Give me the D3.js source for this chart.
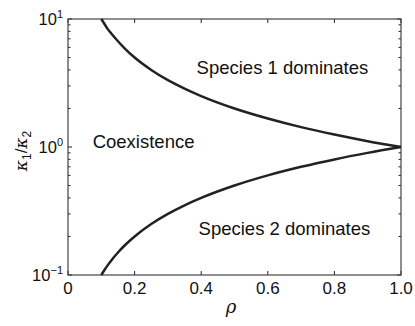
<!DOCTYPE html>
<html>
<head>
<meta charset="utf-8">
<script src="https://cdn.jsdelivr.net/npm/d3@7"></script>
<style>
  body { margin: 0; background: #fff; }
  svg { display: block; font-family: "Liberation Sans", Arial, sans-serif; }
</style>
</head>
<body>
<svg id="chart" width="415" height="326"></svg>
<script>
// values
const rho = [0.1, 0.11, 0.12, 0.13, 0.15, 0.17, 0.2, 0.25, 0.3, 0.35, 0.4, 0.5, 0.6, 0.7, 0.8, 0.9, 1.0];
const upperRatio = [10, 9.1, 8.3, 7.7, 6.7, 5.9, 5.0, 4.0, 3.33, 2.86, 2.5, 2.0, 1.67, 1.43, 1.25, 1.11, 1.0];
const lowerRatio = [0.1, 0.11, 0.12, 0.13, 0.15, 0.17, 0.2, 0.25, 0.3, 0.35, 0.4, 0.5, 0.6, 0.7, 0.8, 0.9, 1.0];
const xTicks = [0, 0.2, 0.4, 0.6, 0.8, 1.0];
const yMajor = [0.1, 1, 10];
const yExp = ["\u22121", "0", "1"];
const regionLabels = ["Species 1 dominates", "Coexistence", "Species 2 dominates"];
const regionPos = [[0.644, 4.2], [0.227, 1.11], [0.65, 0.23]];

const margin = {top: 19, right: 14, bottom: 51, left: 68};
const W = 415, H = 326;
const width = W - margin.left - margin.right;
const height = H - margin.top - margin.bottom;

const svg = d3.select('#chart');
const g = svg.append('g').attr('transform', 'translate(' + margin.left + ',' + margin.top + ')');

const x = d3.scaleLinear().domain([0, 1]).range([0, width]);
const y = d3.scaleLog().domain([0.1, 10]).range([height, 0]);

const ink = '#222';
const tickLen = 4;

// minor log ticks
const minor = [];
[0.1, 1].forEach(b => { for (let k = 2; k <= 9; k++) minor.push(b * k); });

// x ticks bottom & top (inward)
xTicks.forEach(t => {
  g.append('line').attr('x1', x(t)).attr('x2', x(t)).attr('y1', height).attr('y2', height - tickLen)
    .attr('stroke', ink).attr('stroke-width', 1);
  g.append('line').attr('x1', x(t)).attr('x2', x(t)).attr('y1', 0).attr('y2', tickLen)
    .attr('stroke', ink).attr('stroke-width', 1);
  g.append('text').attr('x', x(t)).attr('y', height + 19)
    .attr('text-anchor', 'middle').attr('font-size', 17).attr('fill', '#111')
    .text(t === 0 ? '0' : d3.format('.1f')(t));
});

// y minor ticks left & right
minor.forEach(v => {
  g.append('line').attr('x1', 0).attr('x2', 2.5).attr('y1', y(v)).attr('y2', y(v))
    .attr('stroke', ink).attr('stroke-width', 1);
  g.append('line').attr('x1', width).attr('x2', width - 2.5).attr('y1', y(v)).attr('y2', y(v))
    .attr('stroke', ink).attr('stroke-width', 1);
});
yMajor.forEach((v, i) => {
  g.append('line').attr('x1', 0).attr('x2', tickLen).attr('y1', y(v)).attr('y2', y(v))
    .attr('stroke', ink).attr('stroke-width', 1);
  g.append('line').attr('x1', width).attr('x2', width - tickLen).attr('y1', y(v)).attr('y2', y(v))
    .attr('stroke', ink).attr('stroke-width', 1);
  const t = g.append('text').attr('x', -5).attr('y', y(v) + 6)
    .attr('text-anchor', 'end').attr('font-size', 16.5).attr('fill', '#111');
  t.append('tspan').text('10');
  t.append('tspan').attr('dy', -7).attr('font-size', 11).text(yExp[i]);
});

// frame
g.append('rect').attr('width', width).attr('height', height)
  .attr('fill', 'none').attr('stroke', '#444').attr('stroke-width', 1.2);

// curves
const line = d3.line().x(d => x(d[0])).y(d => y(d[1])).curve(d3.curveMonotoneX);
[upperRatio, lowerRatio].forEach(arr => {
  g.append('path').datum(rho.map((r, i) => [r, arr[i]]))
    .attr('d', line).attr('fill', 'none').attr('stroke', ink).attr('stroke-width', 2.5);
});

// region labels
regionLabels.forEach((s, i) => {
  g.append('text').attr('x', x(regionPos[i][0])).attr('y', y(regionPos[i][1]) + 6.5)
    .attr('text-anchor', 'middle').attr('font-size', 18.5).attr('fill', '#111').text(s);
});

// axis labels
svg.append('text').attr('x', margin.left + x(0.49)).attr('y', 313)
  .attr('text-anchor', 'middle').attr('font-size', 18).attr('font-style', 'italic')
  .attr('font-family', '"DejaVu Serif", serif').attr('fill', '#111').text('\u03c1');

const yl = svg.append('text').attr('transform', 'translate(27,' + (margin.top + height / 2 + 4) + ') rotate(-90)')
  .attr('text-anchor', 'middle').attr('font-size', 17).attr('fill', '#111')
  .attr('font-family', '"DejaVu Serif", serif').attr('font-style', 'italic');
yl.append('tspan').text('\u03ba');
yl.append('tspan').attr('dy', 4).attr('font-size', 12).attr('font-style', 'normal')
  .attr('font-family', '"Liberation Sans", Arial, sans-serif').text('1');
yl.append('tspan').attr('dy', -4).attr('font-style', 'normal')
  .attr('font-family', '"Liberation Sans", Arial, sans-serif').text('/');
yl.append('tspan').text('\u03ba');
yl.append('tspan').attr('dy', 4).attr('font-size', 12).attr('font-style', 'normal')
  .attr('font-family', '"Liberation Sans", Arial, sans-serif').text('2');
</script>
</body>
</html>
